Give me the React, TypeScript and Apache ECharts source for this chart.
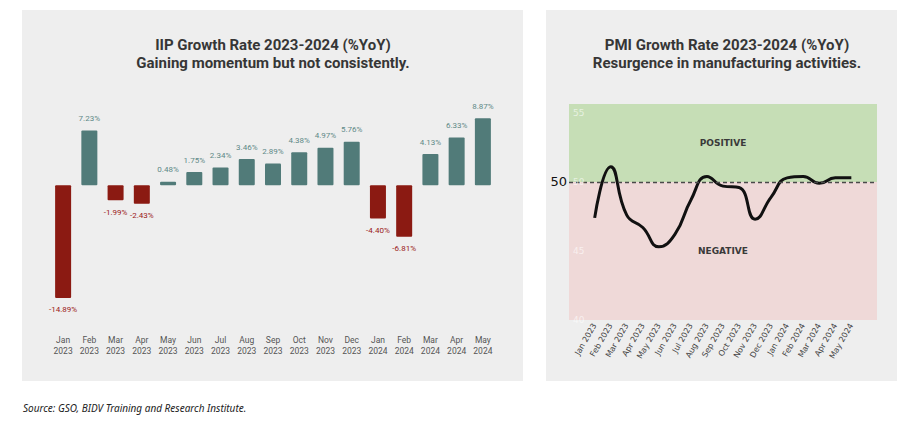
import React, { useEffect, useRef } from "react";
import * as echarts from "echarts";

const months = [
  "Jan 2023", "Feb 2023", "Mar 2023", "Apr 2023", "May 2023", "Jun 2023",
  "Jul 2023", "Aug 2023", "Sep 2023", "Oct 2023", "Nov 2023", "Dec 2023",
  "Jan 2024", "Feb 2024", "Mar 2024", "Apr 2024", "May 2024",
];
const iipValues = [
  -14.89, 7.23, -1.99, -2.43, 0.48, 1.75, 2.34, 3.46, 2.89, 4.38, 4.97, 5.76,
  -4.4, -6.81, 4.13, 6.33, 8.87,
];
const pmiValues = [
  47.4, 51.1, 47.6, 46.7, 45.3, 46.2, 48.7, 50.4, 49.7, 49.6, 47.3, 48.9,
  50.3, 50.4, 49.9, 50.3, 50.3,
];
const pmiMin = 40;
const pmiMax = 55.65;
const pmiTickStep = 5;
const pmiThreshold = 50;

const TEAL = "#517b79";
const RED = "#8b1a12";

export default function App() {
  const ref = useRef<HTMLDivElement>(null);
  useEffect(() => {
    if (!ref.current) return;
    const chart = echarts.init(ref.current, undefined, { renderer: "svg" });
    const barData = iipValues.map((v) => ({
      value: v,
      itemStyle: { color: v >= 0 ? TEAL : RED },
      label: {
        position: v >= 0 ? "top" : "bottom",
        color: v >= 0 ? "#5e8987" : "#9b2018",
      },
    }));
    const lineData = pmiValues.map((v, i) => [i, v]);
    const titleStyle = {
      fontFamily: "Roboto",
      fontWeight: 700,
      fontSize: 15,
      color: "#363636",
      lineHeight: 18,
    };
    chart.setOption({
      animation: false,
      backgroundColor: "#ffffff",
      title: [
        {
          text: "IIP Growth Rate 2023-2024 (%YoY)\nGaining momentum but not consistently.",
          left: 268,
          top: 31,
          textAlign: "center",
          textStyle: titleStyle,
        },
        {
          text: "PMI Growth Rate 2023-2024 (%YoY)\nResurgence in manufacturing activities.",
          left: 722,
          top: 31,
          textAlign: "center",
          textStyle: titleStyle,
        },
      ],
      graphic: [
        {
          type: "rect",
          z: -10,
          shape: { x: 22, y: 10, width: 501, height: 371 },
          style: { fill: "#eeeeee" },
        },
        {
          type: "rect",
          z: -10,
          shape: { x: 546, y: 10, width: 351, height: 371 },
          style: { fill: "#eeeeee" },
        },
        {
          type: "text",
          x: 23,
          y: 408,
          style: {
            text: "Source: GSO, BIDV Training and Research Institute.",
            fontFamily: "Noto Sans",
            fontStyle: "italic",
            fontSize: 10,
            fill: "#222222",
            verticalAlign: "middle",
          },
        },
      ],
      grid: [
        { left: 50, width: 446, top: 109.6, height: 196.8 },
        { left: 569, width: 308, top: 104, height: 216 },
      ],
      xAxis: [
        {
          type: "category",
          gridIndex: 0,
          data: months,
          axisLine: { show: false, onZero: false },
          axisTick: { show: false },
          axisLabel: {
            margin: 28,
            fontFamily: "Roboto",
            fontSize: 8.5,
            lineHeight: 11,
            color: "#555555",
            formatter: (v: string) => v.replace(" ", "\n"),
          },
        },
        {
          type: "value",
          gridIndex: 1,
          min: -1.6,
          max: 17.6,
          splitLine: { show: false },
          axisLine: { show: false },
          axisTick: { show: false },
          axisLabel: {
            customValues: months.map((_, i) => i),
            rotate: 60,
            margin: 4,
            fontFamily: "DejaVu Sans",
            fontSize: 8,
            color: "#444444",
            formatter: (v: number) => months[Math.round(v)] ?? "",
          },
        },
      ],
      yAxis: [
        {
          type: "value",
          gridIndex: 0,
          min: -16,
          max: 10,
          show: false,
        },
        {
          type: "value",
          gridIndex: 1,
          min: pmiMin,
          max: pmiMax,
          interval: pmiTickStep,
          z: 10,
          splitLine: { show: false },
          axisLine: { show: false },
          axisTick: { show: false },
          axisLabel: {
            showMaxLabel: false,
            inside: true,
            margin: 4,
            fontFamily: "DejaVu Sans",
            fontSize: 9,
            color: "rgba(255,255,255,0.6)",
          },
        },
      ],
      series: [
        {
          type: "bar",
          xAxisIndex: 0,
          yAxisIndex: 0,
          data: barData,
          barWidth: 16,
          itemStyle: { borderRadius: 1 },
          label: {
            show: true,
            distance: 8,
            fontFamily: "Roboto",
            fontSize: 8,
            formatter: (p: any) => p.value.toFixed(2) + "%",
          },
        },
        {
          type: "line",
          xAxisIndex: 1,
          yAxisIndex: 1,
          data: lineData,
          smooth: 0.5,
          symbol: "none",
          lineStyle: { color: "#111111", width: 3 },
          markArea: {
            silent: true,
            label: {
              position: "inside",
              fontFamily: "DejaVu Sans",
              fontWeight: "bold",
              fontSize: 9,
              color: "#3a3a3a",
            },
            data: [
              [
                {
                  name: "POSITIVE",
                  yAxis: pmiThreshold,
                  itemStyle: { color: "#c6deb6" },
                },
                { yAxis: pmiMax },
              ],
              [
                {
                  name: "NEGATIVE",
                  yAxis: pmiMin,
                  itemStyle: { color: "#efd9d8" },
                },
                { yAxis: pmiThreshold },
              ],
            ],
          },
          markLine: {
            silent: true,
            symbol: "none",
            lineStyle: { color: "#4a4a4a", type: [4, 3], width: 1.3 },
            label: {
              position: "start",
              distance: 2,
              formatter: "50",
              fontFamily: "DejaVu Sans",
              fontSize: 13,
              color: "#111111",
            },
            data: [{ yAxis: pmiThreshold }],
          },
        },
      ],
    });
    return () => chart.dispose();
  }, []);
  return (
    <div
      ref={ref}
      style={{ position: "fixed", left: 0, top: 0, width: 922, height: 436 }}
    />
  );
}
